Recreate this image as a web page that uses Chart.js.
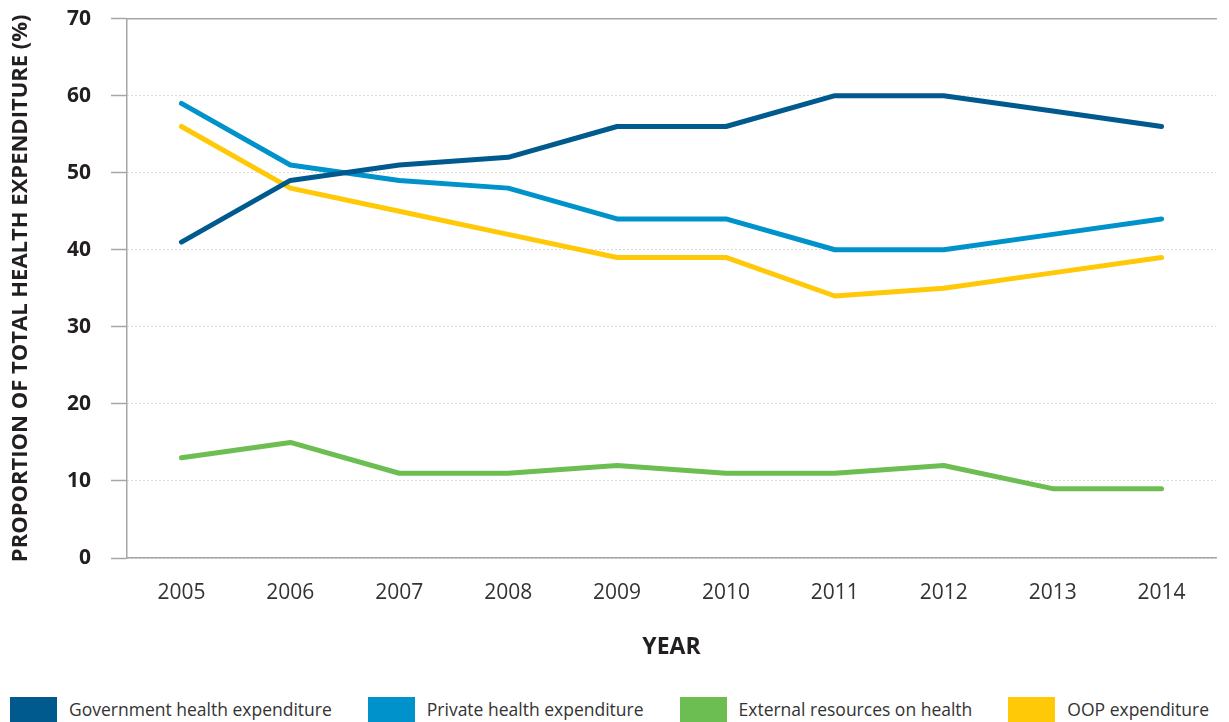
<!DOCTYPE html>
<html>
<head>
<meta charset="utf-8">
<script src="https://cdn.jsdelivr.net/npm/chart.js@4.4.1/dist/chart.umd.min.js"></script>
<style>
  body { margin: 0; background: #fff; font-family: "Open Sans", sans-serif; }
  #wrap { position: relative; width: 1229px; height: 722px; overflow: hidden; }
  #chart { position: absolute; left: 0; top: -14px; }
  #legend { position: absolute; left: 10px; top: 697px; display: flex; white-space: nowrap; }
  .item { display: flex; align-items: center; margin-right: 36px; height: 25px; }
  .box { width: 47px; height: 25px; margin-right: 12px; }
  .lbl { font-size: 17.5px; color: #333; line-height: 25px; }
</style>
</head>
<body>
<div id="wrap">
  <canvas id="chart" width="1229" height="680"></canvas>
  <div id="legend"></div>
</div>
<script>
const years = ['2005', '2006', '2007', '2008', '2009', '2010', '2011', '2012', '2013', '2014'];
const govExp = [41, 49, 51, 52, 56, 56, 60, 60, 58, 56];
const privExp = [59, 51, 49, 48, 44, 44, 40, 40, 42, 44];
const externalRes = [13, 15, 11, 11, 12, 11, 11, 12, 9, 9];
const oopExp = [56, 48, 45, 42, 39, 39, 34, 35, 37, 39];
const yTicks = [0, 10, 20, 30, 40, 50, 60, 70];

const series = [
  { label: 'Government health expenditure', data: govExp, color: '#005a8e' },
  { label: 'Private health expenditure', data: privExp, color: '#0093cb' },
  { label: 'External resources on health', data: externalRes, color: '#6dbe52' },
  { label: 'OOP expenditure', data: oopExp, color: '#ffc908' }
];

function load(){
  const ctx = document.getElementById('chart');

  const chart = new Chart(ctx, {
    type: 'line',
    data: {
      labels: years,
      datasets: series.map(s => ({
        label: s.label,
        data: s.data,
        borderColor: s.color,
        backgroundColor: s.color,
        borderWidth: 5,
        pointRadius: 0,
        tension: 0,
        borderCapStyle: 'round',
        borderJoinStyle: 'round'
      }))
    },
    options: {
      responsive: false,
      animation: false,
      layout: { padding: { top: 0, right: 13, left: 0, bottom: 0 } },
      plugins: {
        legend: { display: false },
        tooltip: { enabled: false }
      },
      scales: {
        x: {
          offset: true,
          grid: { display: false },
          border: { color: '#a6a6a6', width: 1.5 },
          ticks: {
            color: '#333',
            padding: 14,
            font: { family: 'Open Sans', size: 21 }
          },
          title: {
            display: true,
            text: 'YEAR',
            color: '#231f20',
            font: { family: 'Open Sans', size: 23, weight: 'bold' },
            padding: { top: 28, bottom: 5 }
          },
          afterFit: (scale) => { scale.height = 108; }
        },
        x2: {
          position: 'top',
          type: 'category',
          labels: years,
          offset: true,
          grid: { display: false, drawTicks: false },
          border: { display: true, color: '#a6a6a6', width: 1.5 },
          ticks: { display: false }
        },
        y: {
          min: 0,
          max: 70,
          afterBuildTicks: (scale) => { scale.ticks = yTicks.map(v => ({ value: v })); },
          grid: {
            color: '#b5b5b5',
            lineWidth: 1,
            tickLength: 16,
            tickColor: '#a6a6a6',
            tickWidth: 1.5
          },
          border: { color: '#a6a6a6', width: 1.5, dash: [1, 3] },
          ticks: {
            color: '#231f20',
            padding: 20,
            font: { family: 'Open Sans', size: 21, weight: 'bold' }
          },
          title: {
            display: true,
            text: 'PROPORTION OF TOTAL HEALTH EXPENDITURE (%)',
            color: '#231f20',
            font: { family: 'Open Sans', size: 22, weight: 'bold' },
            padding: { top: 8, bottom: 0 }
          },
          afterFit: (scale) => { scale.width = 127; }
        }
      }
    }
  });

  // html legend, same order as the datasets
  const legend = document.getElementById('legend');
  series.forEach(s => {
    const item = document.createElement('div');
    item.className = 'item';
    item.innerHTML = '<span class="box" style="background:' + s.color + '"></span><span class="lbl">' + s.label + '</span>';
    legend.appendChild(item);
  });
}

window.onload = (event) => {
  load();
};
</script>
</body>
</html>
